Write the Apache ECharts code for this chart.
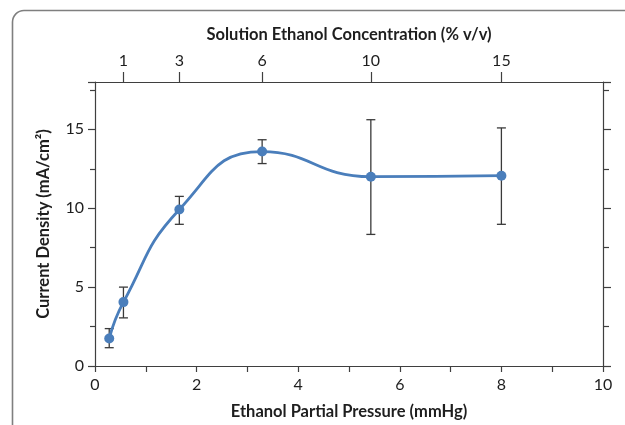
<!DOCTYPE html>
<html><head><meta charset="utf-8">
<script src="https://cdn.jsdelivr.net/npm/echarts@6/dist/echarts.min.js"></script>
<style>html,body{margin:0;padding:0;background:#fff}#c{width:625px;height:425px}</style>
</head><body><div id="c"></div>
<script>
// Ethanol partial pressure (mmHg) and measured current density (mA/cm2)
const pressure = [0.28, 0.56, 1.66, 3.29, 5.43, 8.0];
const density  = [1.74, 4.05, 9.92, 13.59, 12.0, 12.06];
const errLow   = [1.16, 3.05, 8.98, 12.83, 8.34, 8.98];
const errHigh  = [2.37, 5.0, 10.75, 14.34, 15.61, 15.09];
// Secondary axis: solution concentration (% v/v) at matching partial pressures
const concLabels   = ['1', '3', '6', '10', '15'];
const concPressure = [0.56, 1.66, 3.29, 5.43, 8.0];

const FONT = 'Lato, "Liberation Sans", sans-serif';
const AXIS_COLOR = '#3f3f3f';
const TEXT_COLOR = '#1e1e1e';
const BLUE = '#4a7ebb';

const chart = echarts.init(document.getElementById('c'), null, {renderer: 'canvas'});

function errorBar(params, api) {
  const x = api.value(0), lo = api.value(1), hi = api.value(2);
  const a = api.coord([x, lo]), b = api.coord([x, hi]);
  const w = 4.5;
  const style = {stroke: '#3a3a3a', lineWidth: 1.3};
  return {type: 'group', children: [
    {type: 'line', shape: {x1: a[0], y1: a[1], x2: b[0], y2: b[1]}, style},
    {type: 'line', shape: {x1: a[0] - w, y1: a[1], x2: a[0] + w, y2: a[1]}, style},
    {type: 'line', shape: {x1: b[0] - w, y1: b[1], x2: b[0] + w, y2: b[1]}, style}
  ]};
}

const labelStyle = {fontFamily: FONT, fontSize: 16, color: TEXT_COLOR};
const nameStyle = {fontFamily: FONT, fontSize: 16.5, fontWeight: 'bold', color: TEXT_COLOR};
const lineStyle = {color: AXIS_COLOR, width: 1.2};
const frameStyle = {fill: 'none', stroke: '#7f7f7f', lineWidth: 1.6};

chart.setOption({
  animation: false,
  backgroundColor: '#fff',
  // panel border: left and top edges with a rounded corner
  graphic: [
    {type: 'polyline', silent: true, shape: {points: [[12.5, 430], [12.5, 22]]}, style: frameStyle},
    {type: 'arc', silent: true, shape: {cx: 24, cy: 22, r: 11.5, startAngle: Math.PI, endAngle: Math.PI * 1.5, clockwise: true}, style: frameStyle},
    {type: 'polyline', silent: true, shape: {points: [[24, 10.5], [630, 10.5]]}, style: frameStyle}
  ],
  grid: {left: 95, right: 22, top: 82, bottom: 54, containLabel: false},
  xAxis: [{
    type: 'value', position: 'bottom', min: 0, max: 10, interval: 2,
    name: 'Ethanol Partial Pressure (mmHg)', nameLocation: 'middle', nameGap: 37,
    nameTextStyle: nameStyle,
    axisLine: {show: true, onZero: false, lineStyle},
    axisTick: {show: true, inside: false, length: 6, lineStyle},
    minorTick: {show: true, splitNumber: 2, length: 6, lineStyle},
    splitLine: {show: false},
    axisLabel: Object.assign({margin: 11}, labelStyle)
  }, {
    type: 'value', position: 'top', min: 0, max: 10,
    name: 'Solution Ethanol Concentration (% v/v)', nameLocation: 'middle', nameGap: 39,
    nameTextStyle: nameStyle,
    axisLine: {show: true, onZero: false, lineStyle},
    axisTick: {show: true, inside: false, length: 10, customValues: concPressure, lineStyle},
    splitLine: {show: false},
    axisLabel: Object.assign({
      margin: 13, customValues: concPressure,
      formatter: v => {
        const i = concPressure.findIndex(p => Math.abs(p - v) < 1e-6);
        return i >= 0 ? concLabels[i] : '';
      }
    }, labelStyle)
  }],
  yAxis: [{
    type: 'value', position: 'left', min: 0, max: 18, interval: 5,
    name: 'Current Density (mA/cm²)', nameLocation: 'middle', nameGap: 43,
    nameTextStyle: nameStyle,
    axisLine: {show: true, onZero: false, lineStyle},
    axisTick: {show: true, inside: false, length: 7, lineStyle},
    minorTick: {show: true, splitNumber: 2, length: 5, lineStyle},
    splitLine: {show: false},
    axisLabel: Object.assign({margin: 11, formatter: v => (v % 5 === 0 ? String(v) : '')}, labelStyle)
  }, {
    type: 'value', position: 'right', min: 0, max: 18, interval: 5,
    axisLine: {show: true, onZero: false, lineStyle},
    axisTick: {show: true, inside: false, length: 8, lineStyle},
    minorTick: {show: true, splitNumber: 2, length: 6, lineStyle},
    splitLine: {show: false},
    axisLabel: {show: false}
  }],
  series: [{
    type: 'custom', xAxisIndex: 0, yAxisIndex: 0, z: 1,
    renderItem: errorBar,
    data: pressure.map((x, i) => [x, errLow[i], errHigh[i]])
  }, {
    type: 'line', xAxisIndex: 0, yAxisIndex: 0, z: 3,
    data: pressure.map((x, i) => [x, density[i]]),
    smooth: true,
    symbol: 'circle', symbolSize: 10,
    lineStyle: {color: BLUE, width: 2.8},
    itemStyle: {color: BLUE}
  }]
});
</script>
</body></html>
